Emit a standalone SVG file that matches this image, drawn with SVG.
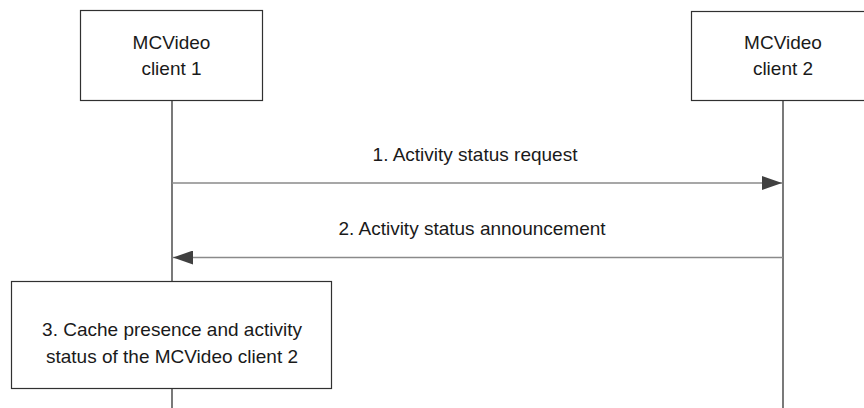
<svg xmlns="http://www.w3.org/2000/svg" width="864" height="408" viewBox="0 0 864 408">
<defs>
<style>
.box{fill:#fff;stroke:#303030;stroke-width:1.2}
.life{stroke:#202020;stroke-width:1.2;fill:none}
.msg{stroke:#8a8a8a;stroke-width:1.6;fill:none}
text{font-family:"Liberation Sans",Arial,sans-serif;font-size:19px;fill:#1a1a1a;text-anchor:middle}
</style>
<marker id="ah" viewBox="0 0 20 14" refX="20" refY="7" markerWidth="20" markerHeight="14" markerUnits="userSpaceOnUse" orient="auto">
<path d="M0,0 L20,7 L0,14 Z" fill="#404040"/>
</marker>
</defs>
<rect width="864" height="408" fill="#fff"/>
<g id="lifelines">
<line class="life" x1="172" y1="100" x2="172" y2="281"/>
<line class="life" x1="172" y1="389" x2="172" y2="408"/>
<line class="life" x1="783" y1="100" x2="783" y2="408"/>
</g>
<g id="client1">
<rect class="box" x="80.5" y="10.5" width="182" height="90"/>
<text x="171.5" y="49">MCVideo</text>
<text x="171.5" y="75">client 1</text>
</g>
<g id="client2">
<rect class="box" x="691.5" y="11.5" width="180" height="89"/>
<text x="783" y="49">MCVideo</text>
<text x="783" y="75">client 2</text>
</g>
<g id="connectors">
<line class="msg" x1="172" y1="183" x2="782" y2="183" marker-end="url(#ah)"/>
<text x="475" y="161">1. Activity status request</text>
<line class="msg" x1="783" y1="257.5" x2="173" y2="257.5" marker-end="url(#ah)"/>
<text x="472" y="235">2. Activity status announcement</text>
</g>
<g id="step3">
<rect class="box" x="11.5" y="281.5" width="320" height="107"/>
<text x="172" y="336">3. Cache presence and activity</text>
<text x="172" y="363">status of the MCVideo client 2</text>
</g>
</svg>
